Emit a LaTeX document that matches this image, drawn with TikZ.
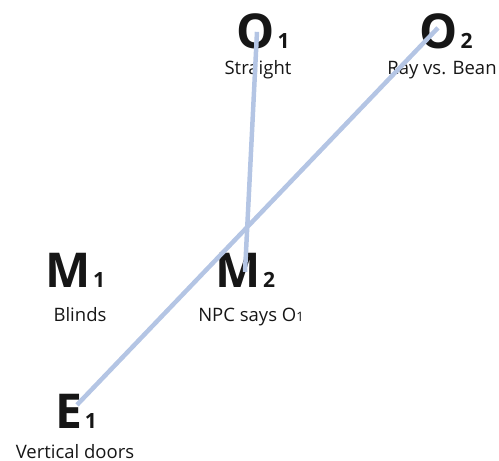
\documentclass[tikz,border=0pt]{standalone}
\usepackage{fontspec}
\setmainfont{Open Sans}
\usetikzlibrary{calc}
\definecolor{linkblue}{RGB}{180,197,228}
\definecolor{ink}{RGB}{22,22,22}
\tikzset{
  big/.style={inner sep=0pt, anchor=base, text=ink, font=\fontsize{48}{48}\selectfont\bfseries},
  sub/.style={inner sep=0pt, anchor=base west, text=ink, font=\fontsize{21}{21}\selectfont\bfseries},
  lbl/.style={inner sep=0pt, anchor=base, text=ink, font=\fontsize{18.5}{18.5}\selectfont},
  link/.style={draw=linkblue, line width=4.5pt}
}
\begin{document}
\begin{tikzpicture}[x=1pt,y=-1pt]
\useasboundingbox (0,0) rectangle (499,461);
% O1
\node[big] (O1) at (256,48) {O};
\node[sub] (O1s) at ($(O1.base east)+(2,0)$) {1};
\node[lbl] (O1l) at (258,74) {Straight};
% O2
\node[big] (O2) at (439,48) {O};
\node[sub] (O2s) at ($(O2.base east)+(2,0)$) {2};
\node[lbl] (O2l) at (442,74) {Ray vs. Bean};
% M1
\node[big] (M1) at (68,287) {M};
\node[sub] (M1s) at ($(M1.base east)+(2,0)$) {1};
\node[lbl] (M1l) at (80,321) {Blinds};
% M2
\node[big] (M2) at (238,287) {M};
\node[sub] (M2s) at ($(M2.base east)+(2,0)$) {2};
\node[lbl] (M2l) at (251,321) {NPC says O{\fontsize{13}{13}\selectfont 1}};
% E1
\node[big] (E1) at (69,428) {E};
\node[sub] (E1s) at ($(E1.base east)+(2,0)$) {1};
\node[lbl] (E1l) at (75,458) {Vertical doors};
% links
\draw[link] ($(O1.center)+(1,1)$) -- ($(M2.center)+(7,2)$);
\draw[link] ($(O2.center)+(-1,-3)$) -- ($(E1.center)+(8,-6)$);
\end{tikzpicture}
\end{document}
